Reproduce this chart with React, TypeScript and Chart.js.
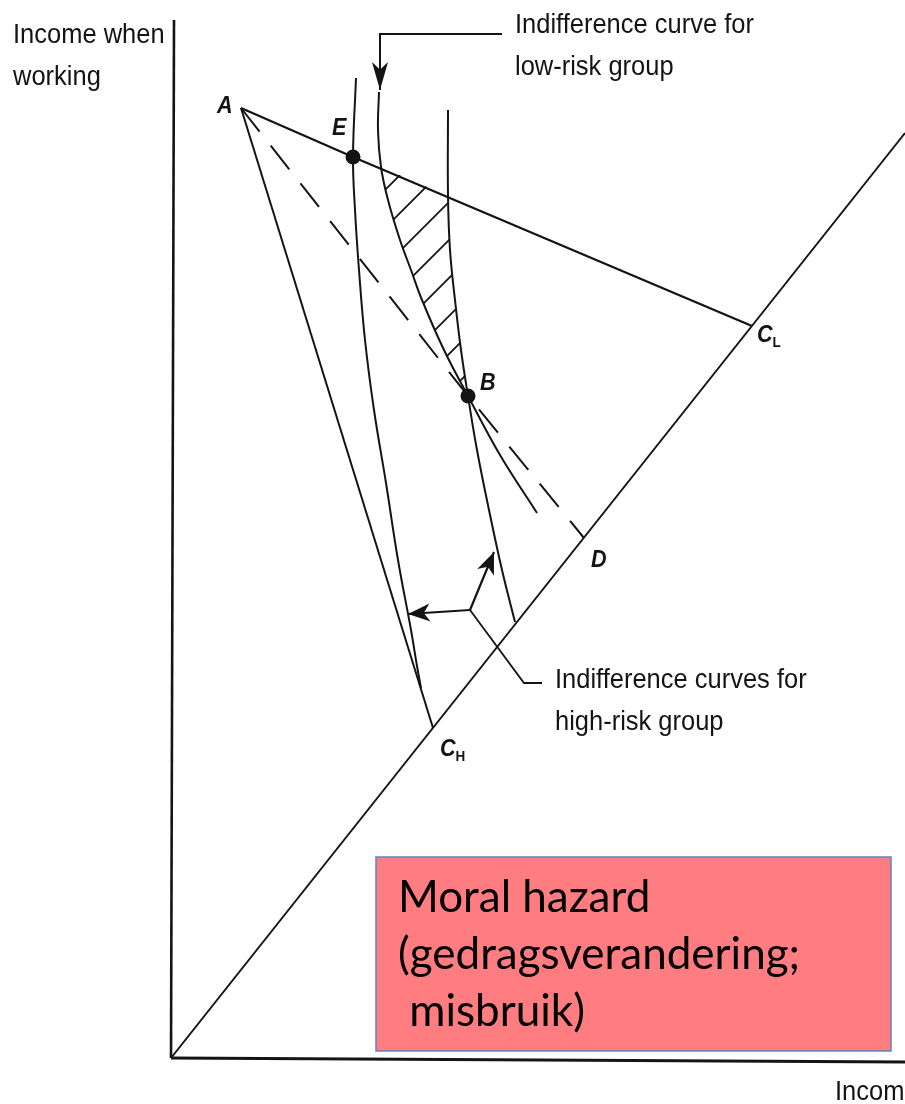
import React, { useEffect, useRef } from 'react';
import { Chart, registerables } from 'chart.js';

Chart.register(...registerables);

// ---- Diagram data (x = income when ill, y = income when working; origin at O) ----
const yAxisLine = [{ x: 0, y: 0 }, { x: 3, y: 1038 }];
const xAxisLine = [{ x: 0, y: 0 }, { x: 734, y: -4 }];
const certaintyLine = [{ x: 0, y: 0 }, { x: 734, y: 925 }];

const pointA = { x: 70, y: 950 };
const pointE = { x: 182, y: 901 };
const pointB = { x: 297, y: 662 };
const pointD = { x: 413, y: 520 };
const pointCL = { x: 581, y: 732 };
const pointCH = { x: 262, y: 330 };

const budgetLowRisk = [pointA, pointE, pointCL];
const budgetHighRisk = [pointA, pointCH];
const poolingLine = [pointA, pointB, pointD];

const curveHighRiskE = [
  { x: 185, y: 980 }, { x: 182, y: 901 }, { x: 184, y: 848 }, { x: 188, y: 788 },
  { x: 194, y: 718 }, { x: 203, y: 648 }, { x: 215, y: 575 }, { x: 227, y: 498 },
  { x: 240, y: 428 }, { x: 246, y: 392 }, { x: 250, y: 370 },
];
const curveLowRisk = [
  { x: 208, y: 966 }, { x: 207, y: 928 }, { x: 210, y: 891 }, { x: 217, y: 858 },
  { x: 229, y: 818 }, { x: 240, y: 788 }, { x: 251, y: 758 }, { x: 273, y: 708 },
  { x: 297, y: 662 }, { x: 329, y: 603 }, { x: 366, y: 545 },
];
const curveHighRiskB = [
  { x: 277, y: 948 }, { x: 277, y: 863 }, { x: 279, y: 808 }, { x: 284, y: 758 },
  { x: 290, y: 708 }, { x: 297, y: 662 }, { x: 306, y: 608 }, { x: 318, y: 548 },
  { x: 331, y: 488 }, { x: 344, y: 436 },
];
const hatchRegion = [
  { x: 210, y: 891 }, { x: 277, y: 862 }, { x: 279, y: 808 }, { x: 284, y: 758 },
  { x: 290, y: 708 }, { x: 297, y: 662 }, { x: 273, y: 708 }, { x: 251, y: 758 },
  { x: 240, y: 788 }, { x: 229, y: 818 }, { x: 217, y: 858 },
];
const markedPoints = [pointE, pointB];

const pointerLowRisk = [{ x: 331, y: 1024 }, { x: 209, y: 1024 }, { x: 209, y: 968 }];
const pointerHighLeft = [{ x: 299, y: 448 }, { x: 237, y: 444 }];
const pointerHighUp = [{ x: 299, y: 448 }, { x: 323, y: 506 }];
const leaderHighRisk = [{ x: 299, y: 448 }, { x: 353, y: 375 }, { x: 371, y: 375 }];

const pointLabels = [
  { text: 'A', sub: '', x: 46, y: 945 },
  { text: 'E', sub: '', x: 161, y: 923 },
  { text: 'B', sub: '', x: 309, y: 668 },
  { text: 'D', sub: '', x: 420, y: 491 },
  { text: 'C', sub: 'L', x: 586, y: 716 },
  { text: 'C', sub: 'H', x: 269, y: 302 },
];

const textBlocks = [
  { lines: ['Income when', 'working'], x: -158, y: 1015 },
  { lines: ['Indifference curve for', 'low-risk group'], x: 344, y: 1025 },
  { lines: ['Indifference curves for', 'high-risk group'], x: 384, y: 370 },
  { lines: ['Income when ill'], x: 664, y: -42 },
];

const noteBox = { x0: 205, x1: 720, y0: 7, y1: 201 };
const noteLines = ['Moral hazard', '(gedragsverandering;', ' misbruik)'];
const noteOrigin = { x: 227, y: 146 };

// ---- styles ----
const INK = '#141414';
const LABEL_FONT = '28px "Liberation Sans", Arial, sans-serif';
const LABEL_SX = 0.91;
const LABEL_LEAD = 42;
const POINT_FONT = 'italic bold 24px "Liberation Sans", Arial, sans-serif';
const SUB_FONT = 'bold 15px "Liberation Sans", Arial, sans-serif';
const NOTE_FONT = '44px Lato, "Liberation Sans", sans-serif';
const NOTE_LEAD = 57;
const HATCH_STEP = 38;
const HATCH_PHASE = 27;

function drawText(ctx: CanvasRenderingContext2D, text: string, x: number, y: number, font: string, sx = 1) {
  ctx.save();
  ctx.font = font;
  ctx.translate(x, y);
  ctx.scale(sx, 1);
  ctx.fillText(text, 0, 0);
  ctx.restore();
}

function arrowHead(ctx: CanvasRenderingContext2D, tip: number[], from: number[], len: number, half: number) {
  const ang = Math.atan2(tip[1] - from[1], tip[0] - from[0]);
  ctx.save();
  ctx.translate(tip[0], tip[1]);
  ctx.rotate(ang);
  ctx.beginPath();
  ctx.moveTo(0, 0);
  ctx.lineTo(-len, -half);
  ctx.lineTo(-len * 0.72, 0);
  ctx.lineTo(-len, half);
  ctx.closePath();
  ctx.fill();
  ctx.restore();
}

const diagramPlugin = {
  id: 'diagram',
  beforeDraw(chart: any) {
    const { ctx, width, height } = chart;
    ctx.save();
    ctx.fillStyle = '#ffffff';
    ctx.fillRect(0, 0, width, height);
    ctx.restore();
  },
  beforeDatasetsDraw(chart: any) {
    const ctx: CanvasRenderingContext2D = chart.ctx;
    const xs = chart.scales.x;
    const ys = chart.scales.y;
    const P = (p: { x: number; y: number }) => [xs.getPixelForValue(p.x), ys.getPixelForValue(p.y)];
    const poly = hatchRegion.map(P);
    ctx.save();
    ctx.beginPath();
    poly.forEach((p, i) => (i ? ctx.lineTo(p[0], p[1]) : ctx.moveTo(p[0], p[1])));
    ctx.closePath();
    ctx.clip();
    const sums = poly.map((p) => p[0] + p[1]);
    const minY = Math.min(...poly.map((p) => p[1])) - 20;
    const maxY = Math.max(...poly.map((p) => p[1])) + 20;
    const maxC = Math.max(...sums);
    ctx.strokeStyle = INK;
    ctx.lineWidth = 1.8;
    ctx.beginPath();
    for (let c = sums[0] + HATCH_PHASE; c <= maxC; c += HATCH_STEP) {
      ctx.moveTo(c - minY, minY);
      ctx.lineTo(c - maxY, maxY);
    }
    ctx.stroke();
    ctx.restore();
  },
  afterDatasetsDraw(chart: any) {
    const ctx: CanvasRenderingContext2D = chart.ctx;
    const xs = chart.scales.x;
    const ys = chart.scales.y;
    const P = (p: { x: number; y: number }) => [xs.getPixelForValue(p.x), ys.getPixelForValue(p.y)];
    ctx.save();
    ctx.fillStyle = INK;

    // arrow heads
    const n = pointerLowRisk.length;
    arrowHead(ctx, P(pointerLowRisk[n - 1]), P(pointerLowRisk[n - 2]), 28, 8);
    arrowHead(ctx, P(pointerHighLeft[1]), P(pointerHighLeft[0]), 22, 9);
    arrowHead(ctx, P(pointerHighUp[1]), P(pointerHighUp[0]), 22, 9);

    // point labels
    ctx.textAlign = 'left';
    ctx.textBaseline = 'alphabetic';
    pointLabels.forEach((l) => {
      const [x, y] = P(l);
      drawText(ctx, l.text, x, y, POINT_FONT, 0.9);
      if (l.sub) {
        ctx.font = POINT_FONT;
        const w = ctx.measureText(l.text).width * 0.9;
        drawText(ctx, l.sub, x + w, y + 5, SUB_FONT, 0.9);
      }
    });

    // text blocks
    textBlocks.forEach((b) => {
      const [x, y] = P(b);
      b.lines.forEach((line, i) => drawText(ctx, line, x, y + i * LABEL_LEAD, LABEL_FONT, LABEL_SX));
    });

    // note box
    const [bx0, by0] = P({ x: noteBox.x0, y: noteBox.y1 });
    const [bx1, by1] = P({ x: noteBox.x1, y: noteBox.y0 });
    ctx.fillStyle = '#ff7c80';
    ctx.fillRect(bx0, by0, bx1 - bx0, by1 - by0);
    ctx.strokeStyle = '#5b86c0';
    ctx.lineWidth = 1.5;
    ctx.strokeRect(bx0, by0, bx1 - bx0, by1 - by0);
    ctx.fillStyle = '#000000';
    const [nx, ny] = P(noteOrigin);
    noteLines.forEach((line, i) => drawText(ctx, line, nx, ny + i * NOTE_LEAD, NOTE_FONT, 1));
    ctx.restore();
  },
};

function lineSet(data: any[], width: number, extra: any = {}) {
  return {
    data,
    showLine: true,
    borderColor: INK,
    backgroundColor: INK,
    borderWidth: width,
    pointRadius: 0,
    pointHoverRadius: 0,
    fill: false,
    tension: 0,
    clip: false,
    ...extra,
  };
}

export default function App() {
  const canvasRef = useRef<HTMLCanvasElement | null>(null);

  useEffect(() => {
    if (!canvasRef.current) return;
    const chart = new Chart(canvasRef.current, {
      type: 'scatter',
      data: {
        datasets: [
          lineSet(yAxisLine, 2.6),
          lineSet(xAxisLine, 2.8),
          lineSet(certaintyLine, 2),
          lineSet(budgetLowRisk, 2.3),
          lineSet(budgetHighRisk, 2),
          lineSet(poolingLine, 2, { borderDash: [30, 18] }),
          lineSet(curveHighRiskE, 2, { tension: 0.4 }),
          lineSet(curveLowRisk, 2, { tension: 0.4 }),
          lineSet(curveHighRiskB, 2, { tension: 0.4 }),
          lineSet(pointerLowRisk, 2),
          lineSet(pointerHighLeft, 2.2),
          lineSet(pointerHighUp, 2.2),
          lineSet(leaderHighRisk, 1.8),
          { data: markedPoints, showLine: false, pointRadius: 7.5, pointBackgroundColor: INK, pointBorderColor: INK, pointBorderWidth: 0, clip: false },
        ] as any,
      },
      options: {
        responsive: false,
        animation: false,
        devicePixelRatio: 1,
        events: [],
        layout: { padding: 0, autoPadding: false },
        plugins: {
          legend: { display: false },
          tooltip: { enabled: false },
          title: { display: false },
        },
        scales: {
          x: { type: 'linear', min: -171, max: 734, display: false },
          y: { type: 'linear', min: -46, max: 1058, display: false },
        },
      } as any,
      plugins: [diagramPlugin],
    });
    return () => chart.destroy();
  }, []);

  return (
    <div style={{ position: 'absolute', left: 0, top: 0, width: 905, height: 1104, background: '#fff', overflow: 'hidden' }}>
      <canvas ref={canvasRef} width={905} height={1104} style={{ display: 'block' }} />
    </div>
  );
}
